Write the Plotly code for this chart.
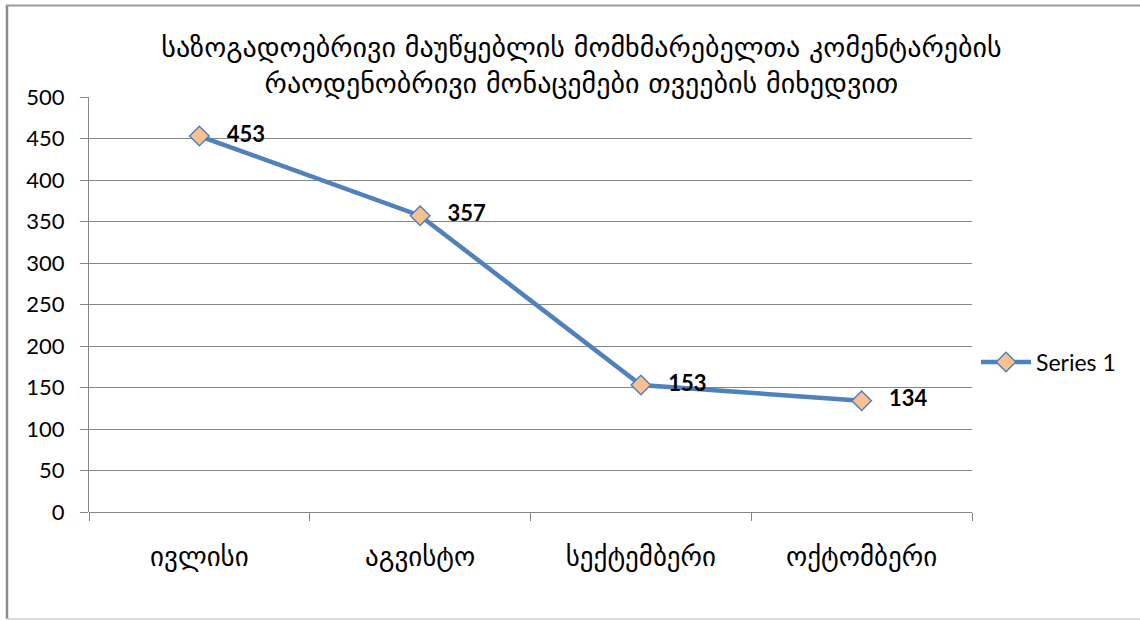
import plotly.graph_objects as go

# Monthly comment counts
months = ["ივლისი", "აგვისტო", "სექტემბერი", "ოქტომბერი"]
comments = [453, 357, 153, 134]
series_name = "Series 1"
title_lines = [
    "საზოგადოებრივი მაუწყებლის მომხმარებელთა კომენტარების",
    "რაოდენობრივი მონაცემები თვეების მიხედვით",
]
y_ticks = [0, 50, 100, 150, 200, 250, 300, 350, 400, 450, 500]

W, H = 1140, 620
L, R, T, B = 89, 168, 97, 108
pw, ph = W - L - R, H - T - B

def px_x(x):
    return (x - L) / pw

def px_y(y):
    return (H - B - y) / ph

LINE_BLUE = "#4F81BD"
GRID = "#868686"
GEO_FONT = "DejaVu Sans"
NUM_FONT = "Lato"

fig = go.Figure()
fig.add_trace(go.Scatter(
    x=months, y=comments, name=series_name,
    mode="lines+markers+text",
    line=dict(color=LINE_BLUE, width=4.5),
    marker=dict(symbol="diamond", size=15, color="#FAC090",
                line=dict(color=LINE_BLUE, width=1.5)),
    text=[str(v) for v in comments],
    textposition="middle right",
    texttemplate="   <b>%{text}</b>",
    textfont=dict(family=NUM_FONT, size=22, color="#000000"),
    cliponaxis=False,
))

fig.update_layout(
    width=W, height=H,
    margin=dict(l=L, r=R, t=T, b=B),
    paper_bgcolor="white", plot_bgcolor="white",
    showlegend=True,
    legend=dict(x=px_x(976), y=px_y(362), xanchor="left", yanchor="middle",
                font=dict(family=NUM_FONT, size=23, color="#000000"),
                bgcolor="rgba(0,0,0,0)", itemwidth=50),
    title=dict(
        text="<br>".join(title_lines),
        x=0.51, xref="container", xanchor="center",
        y=1 - 57 / H, yref="container", yanchor="middle",
        font=dict(family=GEO_FONT, size=28, color="#000000"),
    ),
    xaxis=dict(
        type="category", range=[-0.5, 3.5],
        tickson="boundaries", ticks="outside", ticklen=8, tickcolor=GRID,
        showgrid=False, showline=False, zeroline=False,
        ticklabelstandoff=26,
        tickfont=dict(family=GEO_FONT, size=27, color="#000000"),
    ),
    yaxis=dict(
        range=[0, 500], tickvals=y_ticks,
        ticks="outside", ticklen=8, tickcolor=GRID,
        showgrid=True, gridcolor=GRID, gridwidth=1,
        showline=True, linecolor=GRID, linewidth=1,
        zeroline=True, zerolinecolor=GRID, zerolinewidth=1,
        ticklabelstandoff=11,
        tickfont=dict(family=NUM_FONT, size=22, color="#000000"),
    ),
)

# Chart-area frame: left, top and bottom edges
fig.add_shape(type="line", xref="paper", yref="paper",
              x0=px_x(7), x1=px_x(7), y0=px_y(5), y1=px_y(619),
              line=dict(color="#8C8C8C", width=2.5))
fig.add_shape(type="line", xref="paper", yref="paper",
              x0=px_x(6), x1=px_x(1140), y0=px_y(5.5), y1=px_y(5.5),
              line=dict(color="#9A9A9A", width=2))
fig.add_shape(type="line", xref="paper", yref="paper",
              x0=px_x(6), x1=px_x(1140), y0=px_y(619), y1=px_y(619),
              line=dict(color="#D0D0D0", width=1.5))

fig.write_html("out.html")
